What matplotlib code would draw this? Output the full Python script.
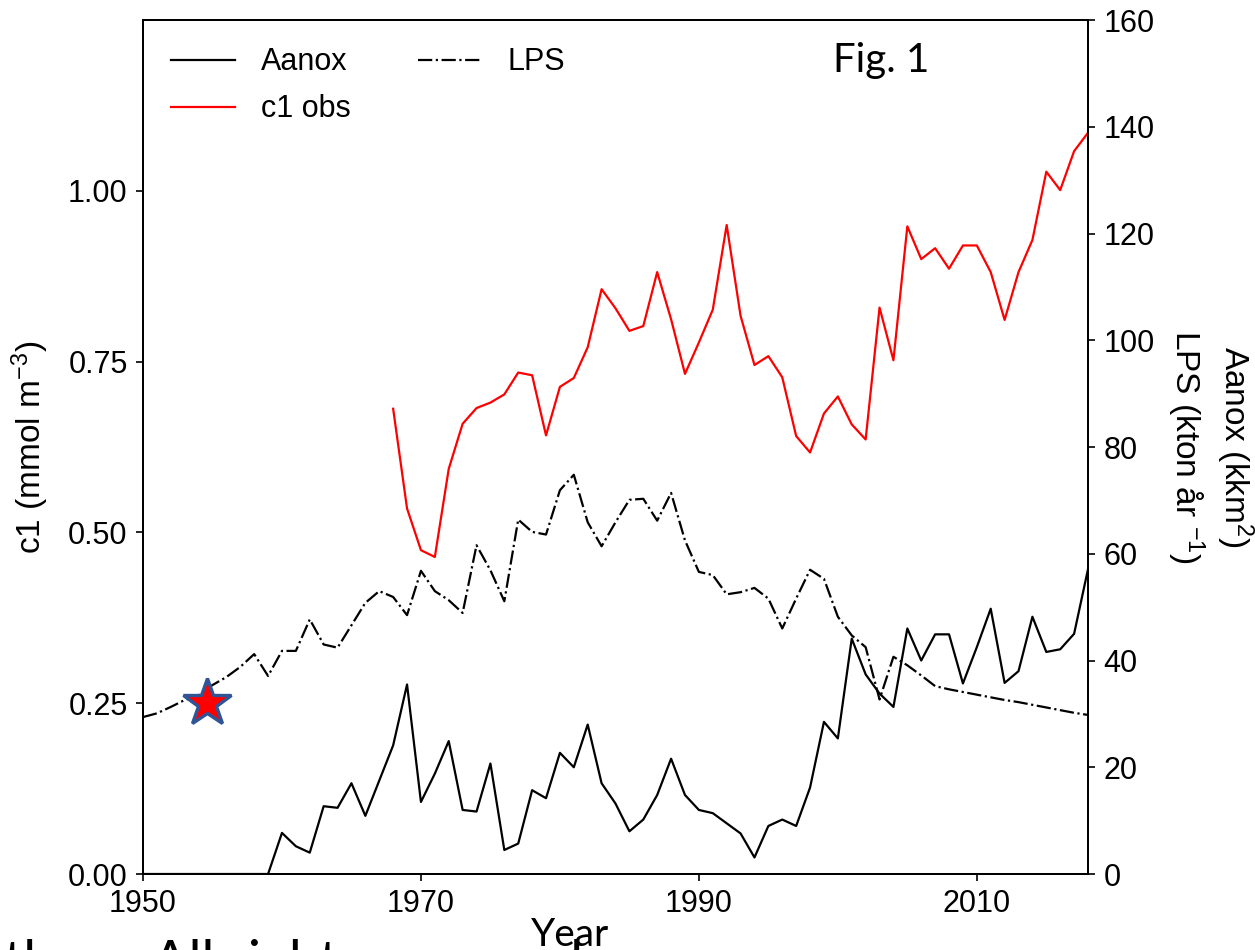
import matplotlib
matplotlib.use("Agg")
import matplotlib.pyplot as plt
import numpy as np

plt.rcParams['font.family'] = ['Liberation Sans', 'DejaVu Sans']
plt.rcParams['mathtext.fontset'] = 'custom'
plt.rcParams['mathtext.rm'] = 'Liberation Sans'
plt.rcParams['mathtext.it'] = 'Liberation Sans:italic'
plt.rcParams['mathtext.bf'] = 'Liberation Sans:bold'

# ---------------- data ----------------
aanox_years = list(range(1950, 2019))
aanox_vals = [0, 0, 0, 0, 0, 0, 0, 0, 0, 0,          # 1950-1959
              7.7, 5.2, 4.0, 12.7, 12.4, 17.0, 10.9, 17.5, 24.1, 35.5,   # 1960-1969
              13.5, 18.8, 24.9, 12.0, 11.7, 20.7, 4.5, 5.7, 15.7, 14.2,  # 1970-1979
              22.7, 20.0, 28.0, 17.0, 13.2, 8.0, 10.2, 14.8, 21.6, 14.8, # 1980-1989
              12.0, 11.4, 9.5, 7.6, 3.1, 9.0, 10.2, 9.0, 16.2, 28.5,     # 1990-1999
              25.4, 44.1, 37.4, 33.8, 31.3, 46.0, 40.0, 44.9, 44.9, 35.7, # 2000-2009
              42.5, 49.7, 35.8, 38.0, 48.2, 41.6, 42.1, 45.0, 57.1]       # 2010-2018

lps_years = list(range(1950, 2019))
lps_vals = [29.4, 30.1, 31.3, 32.6, 33.5, 35.4, 36.9, 38.8, 41.2, 37.1,  # 1950-1959
            41.8, 41.8, 47.7, 43.0, 42.4, 46.6, 50.8, 53.0, 51.9, 48.5,  # 1960-1969
            56.8, 53.0, 51.3, 48.9, 61.6, 56.9, 51.1, 66.4, 64.1, 63.6,  # 1970-1979
            71.9, 74.8, 65.9, 61.4, 65.9, 70.1, 70.3, 66.2, 71.4, 62.5,  # 1980-1989
            56.6, 56.0, 52.4, 52.8, 53.6, 51.6, 46.0, 51.6, 57.0, 55.3,  # 1990-1999
            48.2, 44.7, 42.5, 32.7, 40.7, 39.1, 37.2, 35.2, 34.6, 34.1,  # 2000-2009
            33.6, 33.1, 32.6, 32.2, 31.7, 31.2, 30.7, 30.2, 29.8]        # 2010-2018

c1_years = list(range(1968, 2019))
c1_vals = [0.681, 0.535, 0.474, 0.464, 0.593, 0.659, 0.682, 0.690, 0.702, 0.734,  # 1968-1977
           0.730, 0.642, 0.713, 0.726, 0.771, 0.856, 0.828, 0.795, 0.802, 0.881,  # 1978-1987
           0.812, 0.732, 0.778, 0.826, 0.950, 0.817, 0.745, 0.758, 0.727, 0.641,  # 1988-1997
           0.617, 0.674, 0.699, 0.658, 0.636, 0.829, 0.752, 0.948, 0.900, 0.916,  # 1998-2007
           0.886, 0.920, 0.920, 0.881, 0.811, 0.881, 0.928, 1.028, 1.001, 1.058,  # 2008-2017
           1.085]                                                                  # 2018

star_year = [1954.6]
star_c1 = [0.25]

x_ticks = [1950, 1970, 1990, 2010]
left_ticks = [0.00, 0.25, 0.50, 0.75, 1.00]
right_ticks = [0, 20, 40, 60, 80, 100, 120, 140, 160]

# ---------------- figure ----------------
fig = plt.figure(figsize=(12.55, 9.5), dpi=100)
ax1 = fig.add_axes([143 / 1255, 76 / 950, 945 / 1255, 854 / 950])
ax2 = ax1.twinx()

tick_fs = 22
label_fs = 24

l_c1, = ax1.plot(c1_years, c1_vals, color='red', lw=1.6, label='c1 obs')
l_aan, = ax2.plot(aanox_years, aanox_vals, color='black', lw=1.6, label='Aanox')
l_lps, = ax2.plot(lps_years, lps_vals, color='black', lw=1.6, ls='-.', label='LPS')

ax1.set_xlim(1950, 2018)
ax1.set_ylim(0, 1.25)
ax2.set_ylim(0, 160)
ax1.set_xticks(x_ticks)
ax1.set_yticks(left_ticks)
ax1.set_yticklabels([f"{v:.2f}" for v in left_ticks])
ax2.set_yticks(right_ticks)

for ax in (ax1, ax2):
    ax.tick_params(labelsize=tick_fs, length=5, width=1.2, pad=6)
    for s in ax.spines.values():
        s.set_linewidth(1.4)

ax1.set_ylabel('c1 (mmol m$^{-3}$)', fontsize=label_fs)
ax1.yaxis.set_label_coords(-0.097, 0.5)
ax2.set_ylabel('Aanox (kkm$^2$)\nLPS (kton år $^{-1}$)', fontsize=label_fs,
               rotation=270, va='bottom', linespacing=1.25)
ax2.yaxis.set_label_coords(1.081, 0.5)

ax2.legend(handles=[l_aan, l_c1, l_lps], loc='upper left', ncol=2, frameon=False,
           fontsize=22, handlelength=2.1, handletextpad=0.85, columnspacing=2.2,
           labelspacing=0.55)

# star marker on top
ax3 = ax1.twinx()
ax3.set_ylim(0, 1.25)
ax3.axis('off')
ax3.plot(star_year, star_c1, marker='*', markersize=36, markerfacecolor='#FF0000',
         markeredgecolor='#2F5597', markeredgewidth=2.4, ls='none', clip_on=False)

# overlay texts
fig.text(833 / 1255, (950 - 72) / 950, 'Fig. 1', fontsize=29, family='Lato',
         ha='left', va='baseline')
fig.text(570 / 1255, (950 - 946) / 950, 'Year', fontsize=28, family='Lato',
         ha='center', va='baseline')
fig.text(4 / 1255, (950 - 978) / 950, 'thers. All rights reserved.', fontsize=39,
         family='Lato', ha='left', va='baseline')

fig.savefig('out.png', dpi=100)
